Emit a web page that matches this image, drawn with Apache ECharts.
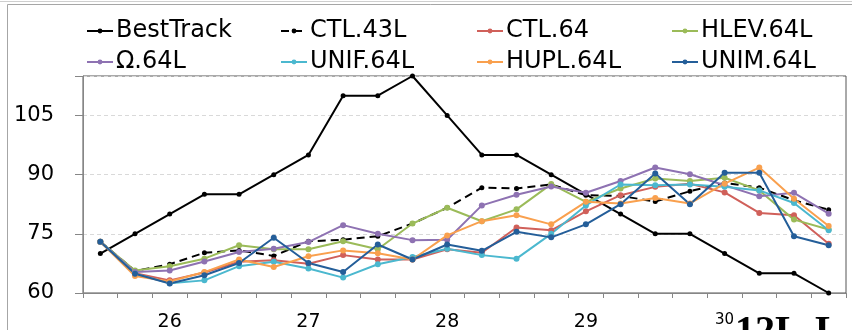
<!DOCTYPE html>
<html>
<head>
<meta charset="utf-8">
<script src="https://cdn.jsdelivr.net/npm/echarts@6/dist/echarts.min.js"></script>
<style>
  html, body { margin: 0; padding: 0; background: #fff; }
  #chart { width: 852px; height: 330px; }
</style>
</head>
<body>
<div id="chart"></div>
<script>
// Six-hourly times, 25 12Z .. 30 18Z
const times = [
  '25 12Z', '25 18Z',
  '26 00Z', '26 06Z', '26 12Z', '26 18Z',
  '27 00Z', '27 06Z', '27 12Z', '27 18Z',
  '28 00Z', '28 06Z', '28 12Z', '28 18Z',
  '29 00Z', '29 06Z', '29 12Z', '29 18Z',
  '30 00Z', '30 06Z', '30 12Z', '30 18Z'
];
const dayLabels = ['26', '27', '28', '29', '30'];
const yTicks = [60, 75, 90, 105];

const seriesNames = ['BestTrack', 'CTL.43L', 'CTL.64', 'HLEV.64L', 'Ω.64L', 'UNIF.64L', 'HUPL.64L', 'UNIM.64L'];
const seriesColors = ['#000000', '#000000', '#D0605A', '#9BBB59', '#8E72B2', '#4BB8CF', '#F9A04E', '#245E99'];

const bestTrack = [70, 75, 80, 85, 85, 90, 95, 110, 110, 115, 105, 95, 95, 90, 85, 80, 75, 75, 70, 65, 65, 60];
const ctl43 = [73, 65.6, 67.3, 70.2, 70.8, 69.4, 73.1, 73.5, 74.4, 77.6, 81.6, 86.7, 86.5, 87.5, 84.8, 84.6, 83.2, 85.8, 87.9, 86.7, 83.5, 81.1];
const ctl64 = [73, 65.0, 63.2, 65.2, 67.9, 68.3, 67.4, 69.6, 68.5, 68.5, 71.1, 70.2, 76.6, 75.9, 80.7, 84.8, 86.9, 87.7, 85.5, 80.3, 79.7, 72.5];
const hlev64 = [73, 65.7, 66.8, 68.7, 72.1, 71.1, 71.1, 73.1, 71.1, 77.6, 81.6, 78.2, 81.2, 87.6, 83.1, 86.5, 89.0, 88.4, 89.2, 86.0, 78.6, 76.1];
const omega64 = [73, 65.3, 65.7, 68.0, 70.4, 71.2, 72.9, 77.2, 75.0, 73.4, 73.5, 82.2, 84.9, 87.0, 85.4, 88.4, 91.8, 90.1, 87.3, 84.5, 85.4, 80.1];
const unif64 = [73, 64.9, 62.5, 63.2, 66.8, 67.9, 66.2, 63.9, 67.3, 69.1, 71.2, 69.6, 68.7, 75.0, 82.2, 87.5, 87.3, 87.5, 86.9, 86.0, 82.8, 75.9];
const hupl64 = [73, 64.3, 62.9, 65.3, 68.5, 66.6, 69.3, 70.8, 70.1, 68.5, 74.6, 78.2, 79.7, 77.4, 83.1, 82.7, 84.1, 82.7, 87.7, 91.8, 83.9, 77.0];
const unim64 = [73, 64.9, 62.4, 64.5, 67.6, 74.0, 67.6, 65.3, 72.3, 68.5, 72.3, 70.7, 75.5, 74.1, 77.4, 82.5, 90.3, 82.5, 90.5, 90.5, 74.4, 72.1];

const seriesValues = [bestTrack, ctl43, ctl64, hlev64, omega64, unif64, hupl64, unim64];

const FONT = '"DejaVu Sans", Verdana, sans-serif';

const chart = echarts.init(document.getElementById('chart'), null, { renderer: 'canvas' });

// one legend per entry so the entries sit on a 4 x 2 grid
const legendCols = [86, 280, 476, 671];
const legendRows = [19, 50];
const legends = seriesNames.map((name, i) => ({
  data: [name],
  left: legendCols[i % 4],
  top: legendRows[Math.floor(i / 4)],
  itemWidth: 26,
  itemHeight: 6,
  itemGap: 4,
  textStyle: { fontFamily: FONT, fontSize: 24, color: '#000', padding: [0, 0, 0, -2] },
  padding: 0
}));

const series = seriesNames.map((name, i) => ({
  name: name,
  type: 'line',
  data: seriesValues[i],
  symbol: 'circle',
  symbolSize: i < 2 ? 5 : 6,
  showSymbol: true,
  animation: false,
  itemStyle: { color: seriesColors[i] },
  lineStyle: {
    color: seriesColors[i],
    width: 2,
    type: i === 1 ? [8, 5] : 'solid'
  },
  emphasis: { disabled: true }
}));

chart.setOption({
  animation: false,
  textStyle: { fontFamily: FONT },
  legend: legends,
  grid: {
    left: 83, right: 6, top: 76, bottom: 37,
    containLabel: false,
    outerBoundsMode: 'none',
    show: true,
    borderColor: '#555555',
    borderWidth: 1,
    backgroundColor: 'transparent'
  },
  xAxis: {
    type: 'category',
    data: times,
    boundaryGap: true,
    axisLine: { lineStyle: { color: '#868686', width: 1 } },
    axisTick: { show: true, interval: 0, length: 5, inside: false, lineStyle: { color: '#868686' } },
    axisLabel: {
      interval: 0,
      margin: 20,
      fontFamily: FONT,
      fontSize: 19,
      color: '#000',
      formatter: function (v) {
        if (!v.endsWith('00Z')) return '';
        const d = v.slice(0, 2);
        if (dayLabels.indexOf(d) < 0) return '';
        return d === '30' ? '{s|' + d + '}' : d;
      },
      rich: {
        s: { fontFamily: FONT, fontSize: 15, color: '#000', padding: [0, 0, 0, 0] }
      }
    },
    splitLine: { show: false }
  },
  yAxis: {
    type: 'value',
    min: 60,
    max: 115,
    interval: 15,
    axisLine: { show: true, lineStyle: { color: '#868686', width: 1 } },
    axisTick: { show: true, length: 8, lineStyle: { color: '#868686' } },
    axisLabel: {
      margin: 29,
      fontFamily: FONT,
      fontSize: 21,
      color: '#000',
      formatter: function (v) { return yTicks.indexOf(v) >= 0 ? String(v) : ''; }
    },
    splitLine: { show: true, lineStyle: { color: '#d9d9d9', type: [4, 3], width: 1 } }
  },
  series: series,
  graphic: [
    { type: 'line', silent: true, shape: { x1: 0, y1: 1.5, x2: 852, y2: 1.5 }, style: { stroke: '#cfcfcf', lineWidth: 1 } },
    { type: 'rect', silent: true, shape: { x: 7.5, y: 4.5, width: 900, height: 400 }, style: { fill: 'none', stroke: '#a6a6a6', lineWidth: 1 } },
    { type: 'text', silent: true, left: 735, top: 313, style: { text: '12L-L', font: 'bold 40px "Liberation Serif", serif', fill: '#000' } }
  ]
});
</script>
</body>
</html>
